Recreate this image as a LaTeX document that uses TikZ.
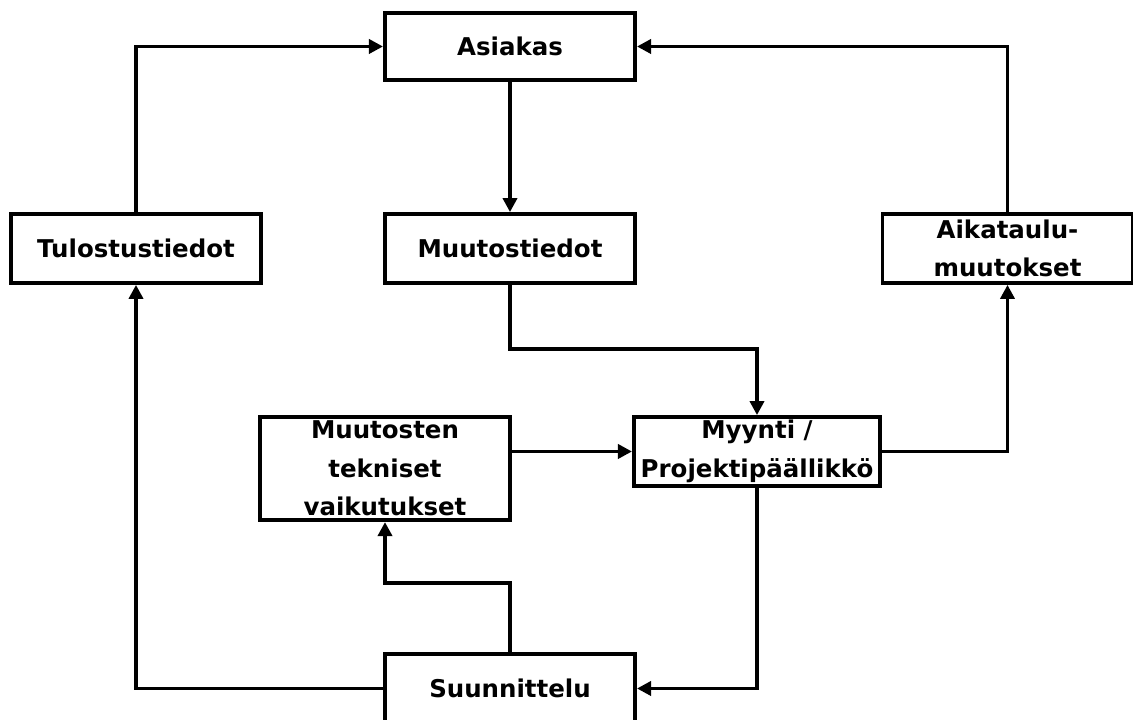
\documentclass[tikz,border=0pt]{standalone}
\usepackage{fontspec}
\setmainfont{DejaVu Sans}
\usetikzlibrary{arrows.meta,positioning}
\tikzset{
  laatikko/.style={draw, line width=2.8pt, minimum width=6.25cm, minimum height=1.72cm,
    inner sep=0pt, align=center, font=\fontsize{17.4pt}{27.5pt}\selectfont\bfseries},
  nuoli/.style={line width=2.8pt, -{Triangle[length=10pt,width=10pt]}},
  viiva/.style={line width=2.8pt}
}
\begin{document}
\begin{tikzpicture}[x=0.025cm,y=0.025cm]
\useasboundingbox (0,0) rectangle (1133,720);
\node[laatikko, minimum height=1.68cm] (asiakas) at (510,673.5) {Asiakas};
\node[laatikko] (tulos) at (136,471.5) {Tulostustiedot};
\node[laatikko] (muutos) at (510,471.5) {Muutostiedot};
\node[laatikko] (aika) at (1007.5,471.5) {Aikataulu-\\muutokset};
\node[laatikko, minimum height=2.58cm] (tekn) at (385,251.5) {Muutosten\\tekniset\\vaikutukset};
\node[laatikko, minimum width=6.15cm] (myynti) at (757,268.5) {Myynti /\\Projektipäällikkö};
\node[laatikko] (suunn) at (510,31.5) {Suunnittelu};
% ylos asiakkaalle
\draw[nuoli] (tulos.north) |- (asiakas.west);
\draw[nuoli] (aika.north) |- (asiakas.east);
\draw[nuoli] (asiakas) -- (muutos);
% myynnin kautta
\draw[nuoli] (muutos.south) -- ++(0,-64) -| (myynti.north);
\draw[nuoli] (tekn.east |- myynti.west) -- (myynti.west);
\draw[nuoli] (myynti.east) -| (aika.south);
\draw[nuoli] (myynti.south) |- (suunn.east);
% suunnittelusta
\draw[nuoli] (suunn.north) -- ++(0,69) -| (tekn.south);
\draw[nuoli] (suunn.west) -| (tulos.south);
\end{tikzpicture}
\end{document}
